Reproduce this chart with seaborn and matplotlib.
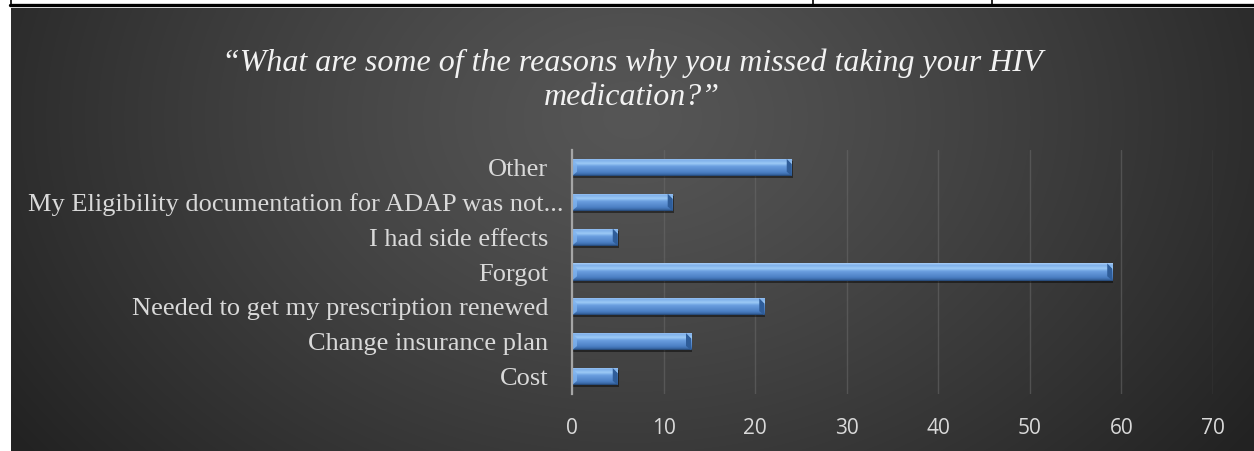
import numpy as np
import matplotlib
matplotlib.use("Agg")
import matplotlib.pyplot as plt
import matplotlib.transforms as mtransforms
from matplotlib.colors import LinearSegmentedColormap
from matplotlib.lines import Line2D
from matplotlib.patches import Polygon, Rectangle
import seaborn as sns

# Survey responses
categories = [
    "Other",
    "My Eligibility documentation for ADAP was not...",
    "I had side effects",
    "Forgot",
    "Needed to get my prescription renewed",
    "Change insurance plan",
    "Cost",
]
counts = [24, 11, 5, 59, 21, 13, 5]
x_ticks = [0, 10, 20, 30, 40, 50, 60, 70]
title = "\u201cWhat are some of the reasons why you missed taking your HIV\nmedication?\u201d"

W, H = 1254, 451
sns.set_theme(style="white")
plt.rcParams["font.family"] = ["Liberation Serif", "DejaVu Serif"]

fig = plt.figure(figsize=(W / 100, H / 100), dpi=100, facecolor="white")

# Dark panel with a soft radial glow
bg_left, bg_top = 11, 8
bg = fig.add_axes([bg_left / W, 0, 1 - bg_left / W, (H - bg_top) / H])
bg.set_axis_off()
gw, gh = W - bg_left, H - bg_top
yy, xx = np.mgrid[0:gh, 0:gw]
r = np.sqrt(((xx - 620) / 760.0) ** 2 + ((yy - 110) / 560.0) ** 2)
r = np.clip(r, 0, 1) ** 1.2
c0, c1 = np.array([0x56, 0x56, 0x56]) / 255, np.array([0x22, 0x22, 0x22]) / 255
img = c0[None, None, :] * (1 - r[..., None]) + c1[None, None, :] * r[..., None]
bg.imshow(img, extent=[0, gw, gh, 0], aspect="auto", interpolation="bilinear")
bg.set_xlim(0, gw)
bg.set_ylim(gh, 0)

# Table rule lines along the top edge
fig.add_artist(Line2D([10 / W, 1], [1 - 4.8 / H] * 2, color="black", lw=2.4,
                      transform=fig.transFigure))
for xv in (10.5, 813, 992):
    fig.add_artist(Line2D([xv / W] * 2, [1, 1 - 5 / H], color="black", lw=1.2,
                          transform=fig.transFigure))

# Bar chart
ax_l, ax_r, ax_t, ax_b = 572, 1213, 150, 394
ax = fig.add_axes([ax_l / W, (H - ax_b) / H, (ax_r - ax_l) / W, (ax_b - ax_t) / H])
ax.patch.set_alpha(0)
sns.barplot(x=counts, y=categories, orient="h", width=0.49, color="#5b8fd4",
            ax=ax, zorder=3)
ax.set_xlim(0, 70)
ax.set_ylim(len(categories) - 0.5, -0.5)
ax.set_xticks(x_ticks)
ax.set_xlabel("")
ax.set_ylabel("")
for s in ("top", "right", "bottom"):
    ax.spines[s].set_visible(False)
ax.spines["left"].set_color("#a6a6a6")
ax.spines["left"].set_linewidth(1.6)
ax.spines["left"].set_zorder(5)
ax.grid(axis="x", color="#6a6a6a", lw=1.0, alpha=0.55, zorder=0)
ax.set_axisbelow(True)
ax.tick_params(axis="x", length=0, pad=17, labelsize=15, labelcolor="#d9d9d9")
ax.tick_params(axis="y", length=0, pad=17, labelsize=19, labelcolor="#d9d9d9")
for lab in ax.get_xticklabels():
    lab.set_family(["Open Sans", "DejaVu Sans"])

# Glossy blue fill with bevelled ends and a drop shadow
bar_cmap = LinearSegmentedColormap.from_list(
    "bevel",
    [(0.0, "#a9d0f8"), (0.12, "#7fb0ea"), (0.3, "#9ccaf6"), (0.45, "#6b9fe0"),
     (0.8, "#4b7fc4"), (0.92, "#3a6aa8"), (1.0, "#22436f")])
grad = np.linspace(0, 1, 64)[:, None]
for p in list(ax.patches):
    x0, y0 = p.get_x(), p.get_y()
    w, h = p.get_width(), p.get_height()
    shadow = Rectangle((x0, y0 + h * 0.12), w + 0.12, h, facecolor="black",
                       alpha=0.45, lw=0, zorder=2)
    ax.add_patch(shadow)
    p.set_edgecolor("none")
    im = ax.imshow(grad, cmap=bar_cmap, extent=[x0, x0 + w, y0 + h, y0],
                   aspect="auto", zorder=3.5, interpolation="bilinear")
    im.set_clip_path(p)
    b = 0.55
    cap = Polygon([(x0 + w - b, y0), (x0 + w, y0 + h * 0.3), (x0 + w, y0 + h),
                   (x0 + w - b, y0 + h * 0.75)], closed=True,
                  facecolor="#2f5d99", edgecolor="none", zorder=3.6)
    ax.add_patch(cap)
    left = Polygon([(x0, y0), (x0 + b, y0 + h * 0.3), (x0 + b, y0 + h * 0.75),
                    (x0, y0 + h)], closed=True, facecolor="#7fb3ef",
                   edgecolor="none", zorder=3.6, alpha=0.8)
    ax.add_patch(left)
ax.set_xlim(0, 70)
ax.set_ylim(len(categories) - 0.5, -0.5)

# The truncated label runs slightly past the others
ylabs = ax.get_yticklabels()
ylabs[1].set_transform(ylabs[1].get_transform() +
                       mtransforms.ScaledTranslation(15 / 100, 0, fig.dpi_scale_trans))

fig.text(632 / W, 1 - 80 / H, title, ha="center", va="center",
         multialignment="center", fontsize=23, style="italic", color="#f2f2f2",
         linespacing=1.25)

fig.savefig("out.png", dpi=100, facecolor="white")
